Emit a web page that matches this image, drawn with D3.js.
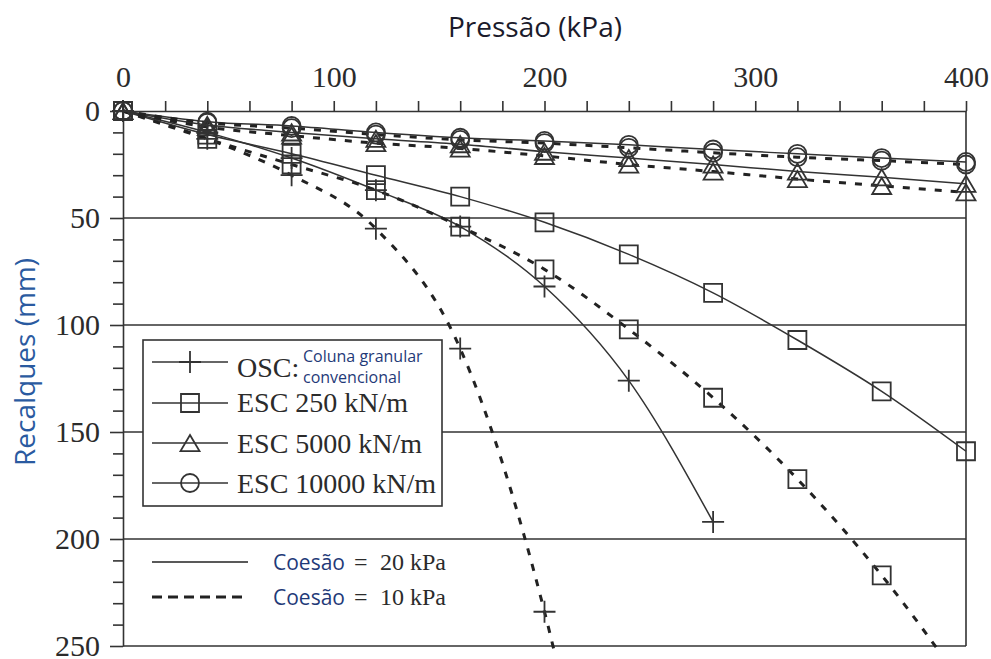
<!DOCTYPE html>
<html>
<head>
<meta charset="utf-8">
<script src="https://cdn.jsdelivr.net/npm/d3@7"></script>
<style>
  body { margin: 0; background: #fff; }
  .serif { font-family: "Liberation Serif", "Times New Roman", serif; fill: #2b2b2b; }
  .sans { font-family: "Open Sans", "Noto Sans", sans-serif; }
</style>
</head>
<body>
<svg id="chart" width="991" height="659"></svg>
<script>
/*--- Data ---*/
const pressao = [0, 40, 80, 120, 160, 200, 240, 280, 320, 360, 400];

// OSC, conventional granular column
const oscC20 = [0, 10, 22, 37, 54, 82, 126, 192];
const oscC10 = [0, 13, 30, 55, 111, 234, 420];
// ESC 250 kN/m
const esc250C20 = [0, 11, 20, 30, 40, 52, 67, 85, 107, 131, 159];
const esc250C10 = [0, 13, 25, 37, 54, 74, 102, 134, 172, 217, 270];
// ESC 5000 kN/m
const esc5000C20 = [0, 6.5, 10, 13, 15.5, 19, 22, 25, 28.3, 31, 34];
const esc5000C10 = [0, 7.5, 11.5, 15, 17.5, 21, 25, 28.3, 31.8, 35, 38];
// ESC 10000 kN/m
const esc10000C20 = [0, 5, 7, 10, 12.5, 14, 15.8, 18, 20, 22, 23.8];
const esc10000C10 = [0, 5.5, 8, 11, 13.5, 15, 17.2, 19.5, 21.6, 23.2, 25];

const xTickLabels = [0, 100, 200, 300, 400];
const yTickLabels = [0, 50, 100, 150, 200, 250];
const gridValues = [50, 100, 150, 200];
const legendLabels = ["OSC:", "ESC 250 kN/m", "ESC 5000 kN/m", "ESC 10000 kN/m"];
const coesaoLabels = ["20 kPa", "10 kPa"];

/*--- Setup ---*/
const svg = d3.select("#chart");
const ink = "#333";

const x = d3.scaleLinear().domain([0, 400]).range([123, 966]);
const y = d3.scaleLinear().domain([0, 250]).range([111, 646]);

// thin plus and centred triangle, the d3 built-ins are filled shapes
const plusType = {
    draw(ctx, size) {
        const r = Math.sqrt(size) / 2;
        ctx.moveTo(-r, 0); ctx.lineTo(r, 0);
        ctx.moveTo(0, -r); ctx.lineTo(0, r);
    }
};
const triType = {
    draw(ctx, size) {
        const w = Math.sqrt(size);
        const h = w * 0.85;
        ctx.moveTo(0, -h / 2);
        ctx.lineTo(w / 2, h / 2);
        ctx.lineTo(-w / 2, h / 2);
        ctx.closePath();
    }
};

const markers = [
    { type: plusType, size: 22 * 22 },
    { type: d3.symbolSquare, size: 18 * 18 },
    { type: triType, size: 19 * 19 },
    { type: d3.symbolCircle, size: Math.PI * 9 * 9 }
];

const series = [
    { values: oscC20, marker: 0, dashed: false },
    { values: oscC10, marker: 0, dashed: true },
    { values: esc250C20, marker: 1, dashed: false },
    { values: esc250C10, marker: 1, dashed: true },
    { values: esc5000C20, marker: 2, dashed: false },
    { values: esc5000C10, marker: 2, dashed: true },
    { values: esc10000C20, marker: 3, dashed: false },
    { values: esc10000C10, marker: 3, dashed: true }
];

svg.append("clipPath").attr("id", "clip")
    .append("rect").attr("x", 0).attr("y", 0).attr("width", 991).attr("height", 650);

/*--- Grid and frame ---*/
svg.append("g").selectAll("line").data(gridValues).join("line")
    .attr("x1", x(0)).attr("x2", x(400))
    .attr("y1", d => y(d)).attr("y2", d => y(d))
    .attr("stroke", ink).attr("stroke-width", 1.6);

svg.append("line")
    .attr("x1", x(0)).attr("x2", x(400)).attr("y1", y(250)).attr("y2", y(250))
    .attr("stroke", ink).attr("stroke-width", 1.6);
svg.append("line")
    .attr("x1", x(400)).attr("x2", x(400)).attr("y1", y(0)).attr("y2", y(250))
    .attr("stroke", ink).attr("stroke-width", 1.6);

/*--- Axes ---*/
const xAxis = svg.append("g")
    .attr("transform", `translate(0,${y(0)})`)
    .call(d3.axisTop(x)
        .tickValues(d3.range(0, 401, 20))
        .tickFormat(d => xTickLabels.includes(d) ? d : "")
        .tickSize(10).tickSizeOuter(0).tickPadding(14));

const yAxis = svg.append("g")
    .attr("transform", `translate(${x(0)},0)`)
    .call(d3.axisLeft(y)
        .tickValues(d3.range(0, 251, 10))
        .tickFormat(d => yTickLabels.includes(d) ? d : "")
        .tickSize(10).tickSizeOuter(0).tickPadding(13));

[xAxis, yAxis].forEach(a => {
    a.select(".domain").attr("stroke", ink).attr("stroke-width", 1.6);
    a.selectAll(".tick line").attr("stroke", ink).attr("stroke-width", 1.6);
    a.selectAll(".tick text")
        .attr("class", "serif")
        .attr("font-size", 30)
        .style("fill", "#2b2b2b");
});
yAxis.selectAll(".tick line")
    .filter(d => yTickLabels.includes(d))
    .attr("x2", -13);

/*--- Series ---*/
const plot = svg.append("g").attr("clip-path", "url(#clip)");
const line = d3.line()
    .x((d, i) => x(pressao[i]))
    .y(d => y(d))
    .curve(d3.curveMonotoneX);

series.forEach(s => {
    plot.append("path")
        .datum(s.values)
        .attr("d", line)
        .attr("fill", "none")
        .attr("stroke", s.dashed ? "#222" : ink)
        .attr("stroke-width", s.dashed ? 3 : 1.5)
        .attr("stroke-dasharray", s.dashed ? "7,9" : null);
});

series.forEach(s => {
    const m = markers[s.marker];
    plot.append("g").selectAll("path")
        .data(s.values).join("path")
        .attr("transform", (d, i) => `translate(${x(pressao[i])},${y(d)})`)
        .attr("d", d3.symbol().type(m.type).size(m.size))
        .attr("fill", "none")
        .attr("stroke", ink)
        .attr("stroke-width", 1.8);
});

/*--- Legend (markers) ---*/
const legend = svg.append("g");
legend.append("rect")
    .attr("x", 143).attr("y", 340).attr("width", 299).attr("height", 166)
    .attr("fill", "#fff").attr("stroke", ink).attr("stroke-width", 1.6);

const rowLineY = [362, 403, 443, 483];
const rowBase = [377, 412, 453, 493];
legendLabels.forEach((lab, i) => {
    legend.append("line")
        .attr("x1", 152).attr("x2", 228).attr("y1", rowLineY[i]).attr("y2", rowLineY[i])
        .attr("stroke", ink).attr("stroke-width", 1.5);
    legend.append("path")
        .attr("transform", `translate(190,${rowLineY[i]})`)
        .attr("d", d3.symbol().type(markers[i].type).size(markers[i].size))
        .attr("fill", "none").attr("stroke", ink).attr("stroke-width", 1.8);
    legend.append("text")
        .attr("class", "serif")
        .attr("x", 237).attr("y", rowBase[i])
        .attr("font-size", 28)
        .text(lab);
});
legend.append("text").attr("class", "sans")
    .attr("x", 303).attr("y", 362).attr("font-size", 16).attr("fill", "#1f3a78")
    .text("Coluna granular");
legend.append("text").attr("class", "sans")
    .attr("x", 303).attr("y", 383).attr("font-size", 16).attr("fill", "#1f3a78")
    .text("convencional");

/*--- Legend (cohesion) ---*/
const coesaoY = [562, 597];
coesaoLabels.forEach((lab, i) => {
    svg.append("line")
        .attr("x1", 152).attr("x2", 248).attr("y1", coesaoY[i]).attr("y2", coesaoY[i])
        .attr("stroke", "#222")
        .attr("stroke-width", i ? 3 : 1.6)
        .attr("stroke-dasharray", i ? "10,6" : null);
    svg.append("text").attr("class", "sans")
        .attr("x", 273).attr("y", coesaoY[i] + 8)
        .attr("font-size", 21).attr("fill", "#1f3a78")
        .text("Coesão");
    svg.append("text").attr("class", "serif")
        .attr("x", 354).attr("y", coesaoY[i] + 8)
        .attr("font-size", 24)
        .text("=");
    svg.append("text").attr("class", "serif")
        .attr("x", 380).attr("y", coesaoY[i] + 8)
        .attr("font-size", 24)
        .text(lab);
});

/*--- Titles ---*/
svg.append("text").attr("class", "sans")
    .attr("x", 535).attr("y", 37)
    .attr("text-anchor", "middle")
    .attr("font-size", 28).attr("fill", "#1b1b2b")
    .text("Pressão (kPa)");

svg.append("text").attr("class", "sans")
    .attr("transform", "translate(35,362) rotate(-90)")
    .attr("text-anchor", "middle")
    .attr("font-size", 28).attr("fill", "#2a5aa0")
    .text("Recalques (mm)");
</script>
</body>
</html>
